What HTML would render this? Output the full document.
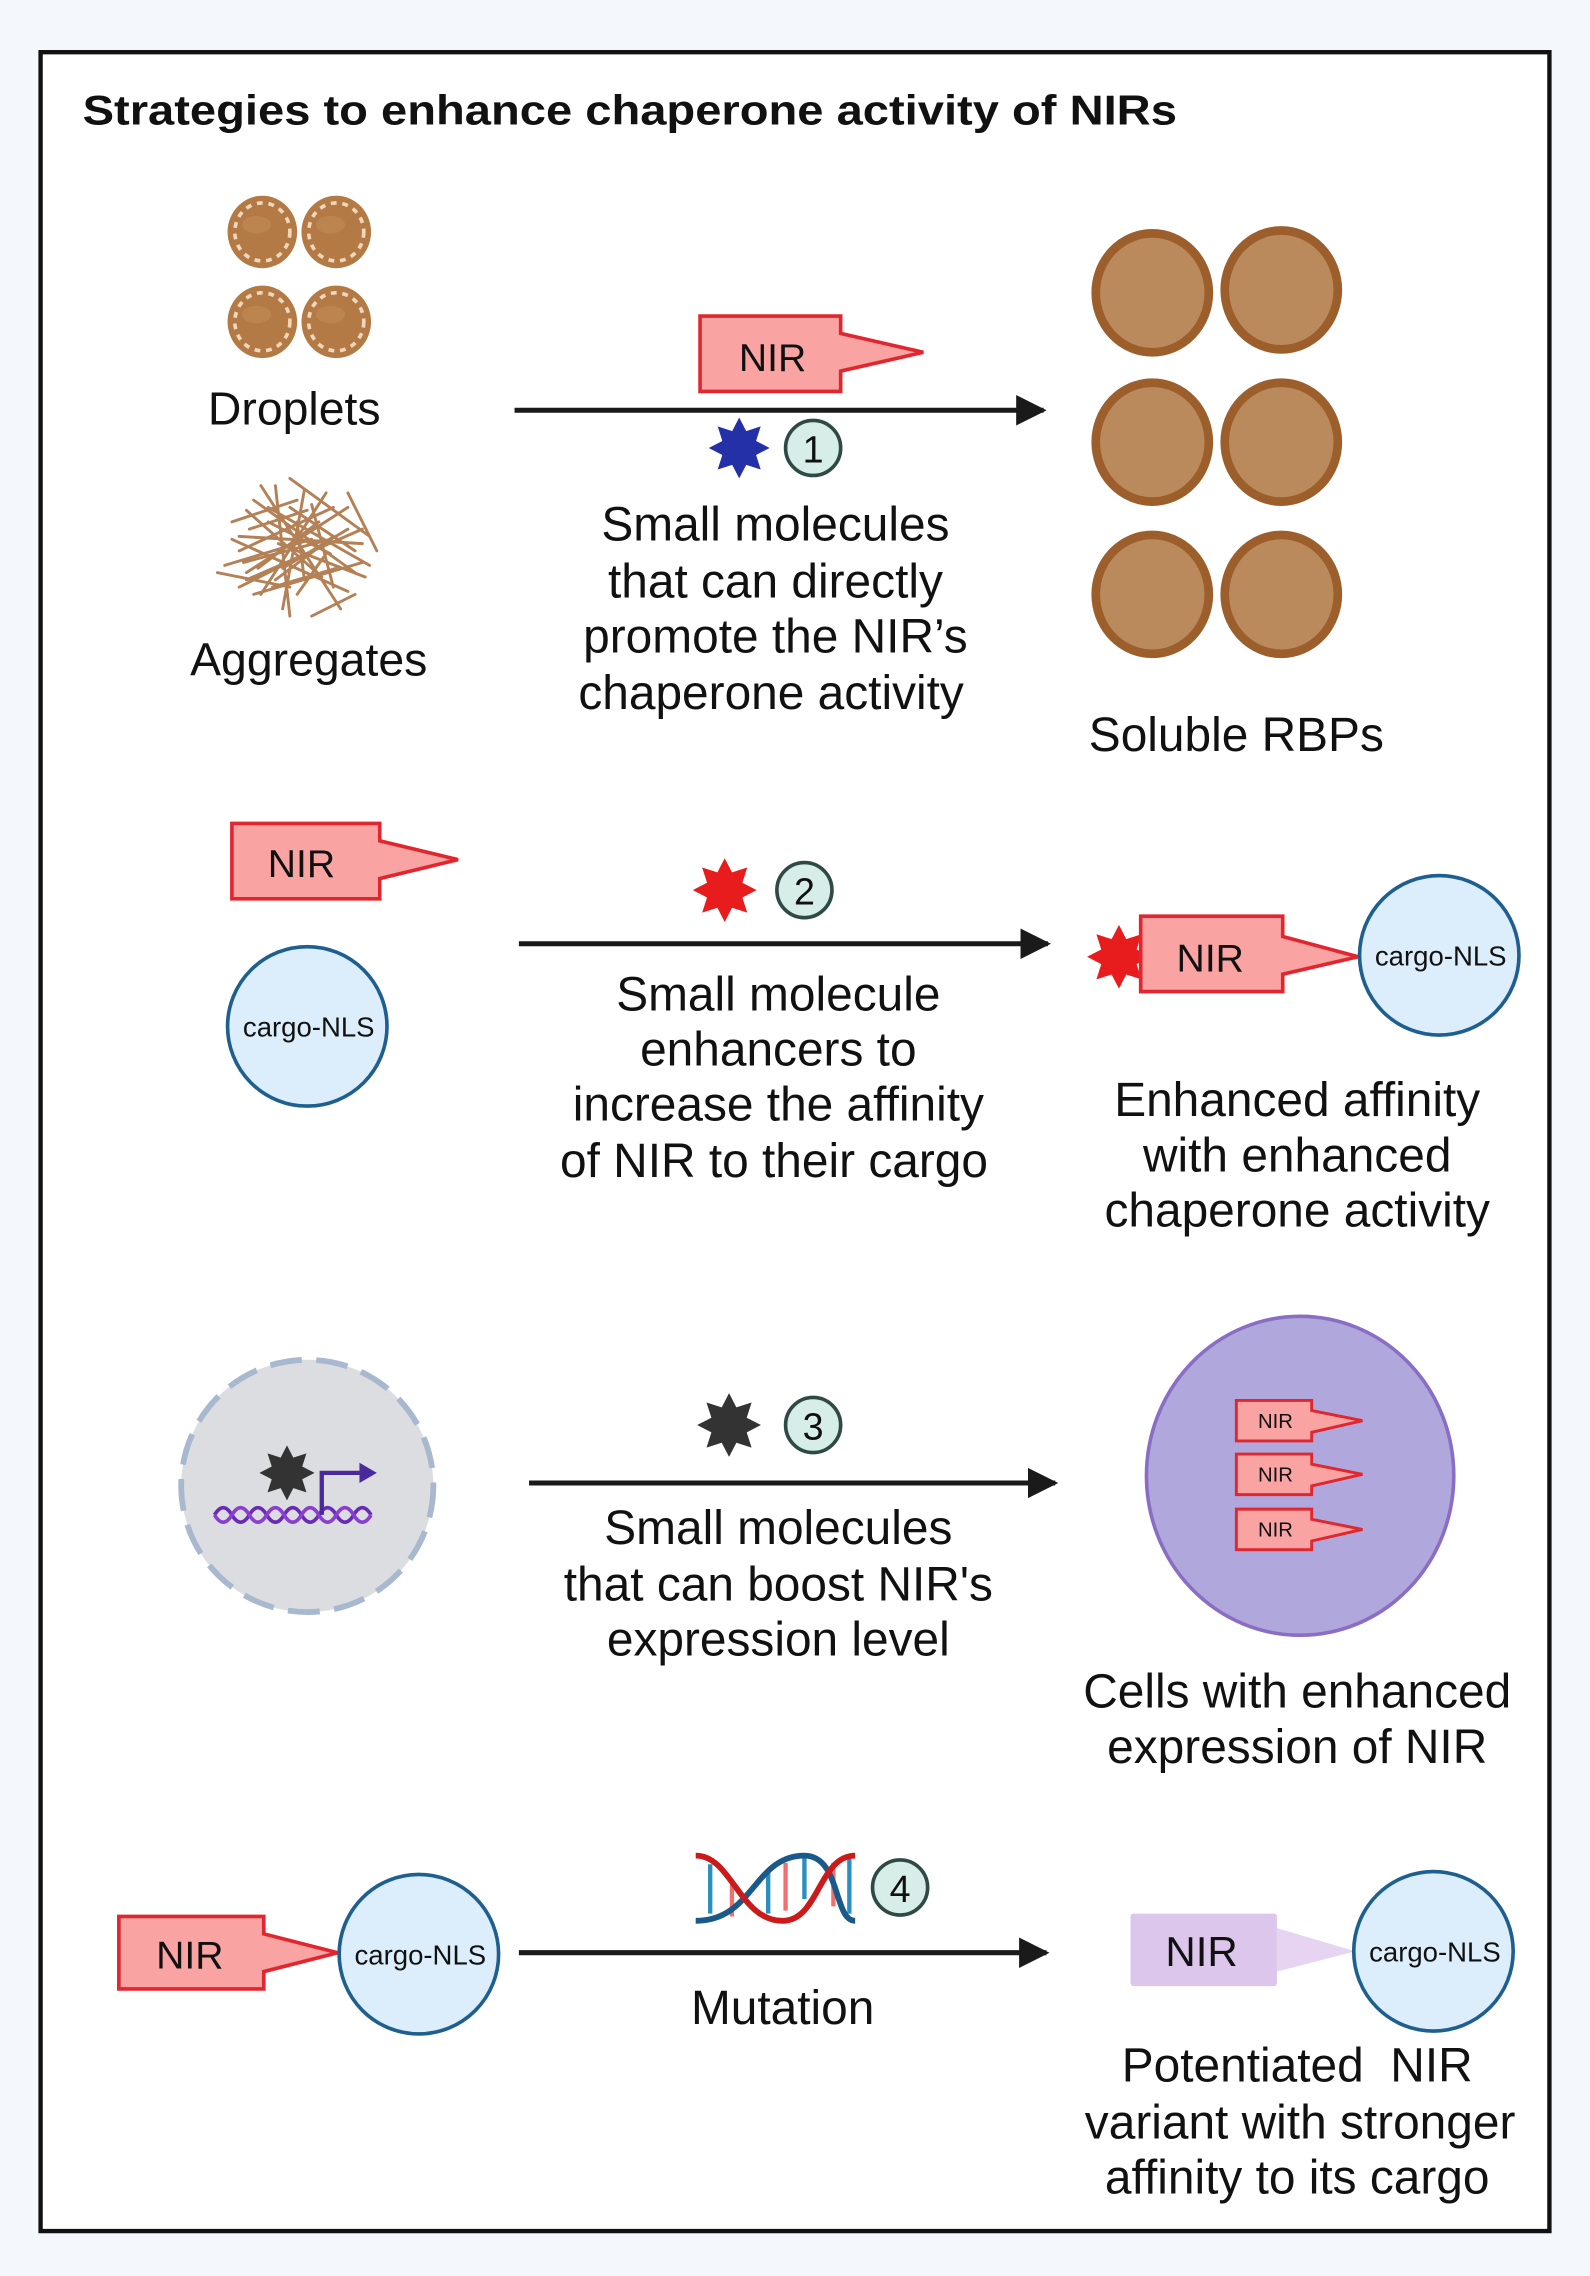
<!DOCTYPE html>
<html><head><meta charset="utf-8"><style>
html,body{margin:0;padding:0;background:#f4f7fb;}
svg{display:block}
text{font-family:"Liberation Sans",sans-serif;fill:#111;}
</style></head><body>
<svg width="1590" height="2276" viewBox="0 0 1097 1570" preserveAspectRatio="none" xmlns="http://www.w3.org/2000/svg">
<defs>
<polygon id="star" points="1,0 .554,.23 .707,.707 .23,.554 0,1 -.23,.554 -.707,.707 -.554,.23 -1,0 -.554,-.23 -.707,-.707 -.23,-.554 0,-1 .23,-.554 .707,-.707 .554,-.23"/>
<g id="drop"><ellipse rx="24" ry="25" fill="#b37a45"/><ellipse rx="19" ry="20" fill="none" stroke="#f1d6b8" stroke-width="2.5" stroke-dasharray="4 4"/><ellipse cx="-4" cy="-5" rx="10" ry="6" fill="#c08a56" opacity=".7"/></g>
<g id="rbp"><ellipse rx="39" ry="41" fill="#bb8a5c" stroke="#9c5f2b" stroke-width="6"/></g>
<marker id="ah" viewBox="0 0 10 10" refX="9" refY="5" markerWidth="6" markerHeight="6" orient="auto" markerUnits="strokeWidth"><path d="M0,0L10,5L0,10z" fill="#1a1a1a"/></marker>
</defs>
<rect x="0" y="0" width="1097" height="1570" fill="#f4f7fb"/>
<rect x="28" y="36" width="1041" height="1503" fill="#fff" stroke="#111" stroke-width="3"/>
<text x="57" y="86" font-size="29" font-weight="bold" textLength="755" lengthAdjust="spacingAndGlyphs">Strategies to enhance chaperone activity of NIRs</text>

<!-- Row 1 -->
<use href="#drop" x="181" y="160"/><use href="#drop" x="232" y="160"/>
<use href="#drop" x="181" y="222"/><use href="#drop" x="232" y="222"/>
<text x="203" y="293" font-size="32" text-anchor="middle">Droplets</text>
<g stroke="#a86a38" stroke-width="2" stroke-linecap="round" opacity=".85">
<path d="M160,360 L205,345 M165,380 L230,350 M170,400 L250,365 M155,390 L215,372 M175,345 L245,395 M180,335 L235,420 M190,335 L200,425 M210,338 L195,420 M225,340 L180,410 M240,350 L170,395 M250,375 L165,370 M255,390 L185,350 M160,372 L240,408 M175,410 L250,388 M200,330 L255,370 M150,395 L200,405 M215,425 L245,410 M185,360 L228,382 M195,392 L240,365 M170,352 L222,398 M205,360 L210,400 M230,370 L190,400 M165,405 L205,385 M240,340 L260,380 M172,365 L212,352 M188,405 L232,392 M200,350 L245,380 M178,392 L220,360 M215,348 L230,405 M192,375 L252,398 M168,388 L228,372 M205,410 L225,382"/>
</g>
<text x="213" y="466" font-size="32" text-anchor="middle">Aggregates</text>

<line x1="355" y1="283" x2="720" y2="283" stroke="#1a1a1a" stroke-width="3.5" marker-end="url(#ah)"/>
<polygon points="483,218 580,218 580,230 637,243 580,256 580,270 483,270" fill="#f9a3a3" stroke="#e0262e" stroke-width="2.5"/>
<text x="533" y="256" font-size="27" text-anchor="middle">NIR</text>
<use href="#star" transform="translate(510,309) scale(21)" fill="#2330a8"/>
<circle cx="561" cy="309" r="19" fill="#d7ede7" stroke="#2f4a45" stroke-width="2.5"/>
<text x="561" y="319" font-size="26" text-anchor="middle">1</text>
<g font-size="33" text-anchor="middle">
<text x="535" y="373">Small molecules</text>
<text x="535" y="412">that can directly</text>
<text x="535" y="450">promote the NIR’s</text>
<text x="532" y="489">chaperone activity</text>
</g>
<use href="#rbp" x="795" y="202"/><use href="#rbp" x="884" y="200"/>
<use href="#rbp" x="795" y="305"/><use href="#rbp" x="884" y="305"/>
<use href="#rbp" x="795" y="410"/><use href="#rbp" x="884" y="410"/>
<text x="853" y="518" font-size="33" text-anchor="middle">Soluble RBPs</text>

<!-- Row 2 -->
<polygon points="160,568 262,568 262,580 316,593 262,606 262,620 160,620" fill="#f9a3a3" stroke="#e0262e" stroke-width="2.5"/>
<text x="208" y="605" font-size="27" text-anchor="middle">NIR</text>
<circle cx="212" cy="708" r="55" fill="#dceefb" stroke="#1f5f8f" stroke-width="2.5"/>
<text x="213" y="715" font-size="19" text-anchor="middle">cargo-NLS</text>
<use href="#star" transform="translate(500,614) scale(22)" fill="#e81c1c"/>
<circle cx="555" cy="614" r="19" fill="#d7ede7" stroke="#2f4a45" stroke-width="2.5"/>
<text x="555" y="624" font-size="26" text-anchor="middle">2</text>
<line x1="358" y1="651" x2="723" y2="651" stroke="#1a1a1a" stroke-width="3.5" marker-end="url(#ah)"/>
<g font-size="33" text-anchor="middle">
<text x="537" y="697">Small molecule</text>
<text x="537" y="735">enhancers to</text>
<text x="537" y="773">increase the affinity</text>
<text x="534" y="812">of NIR to their cargo</text>
</g>
<use href="#star" transform="translate(772,660) scale(22)" fill="#e81c1c"/>
<polygon points="787,632 885,632 885,646 937,660 885,672 885,684 787,684" fill="#f9a3a3" stroke="#e0262e" stroke-width="2.5"/>
<text x="835" y="670" font-size="27" text-anchor="middle">NIR</text>
<circle cx="993" cy="659" r="55" fill="#dceefb" stroke="#1f5f8f" stroke-width="2.5"/>
<text x="994" y="666" font-size="19" text-anchor="middle">cargo-NLS</text>
<g font-size="33" text-anchor="middle">
<text x="895" y="770">Enhanced affinity</text>
<text x="895" y="808">with enhanced</text>
<text x="895" y="846">chaperone activity</text>
</g>

<!-- Row 3 -->
<circle cx="212" cy="1025" r="87" fill="#dcdde0" stroke="#a8b8cf" stroke-width="4" stroke-dasharray="22 10"/>
<use href="#star" transform="translate(198,1016) scale(19)" fill="#333"/>
<path d="M148,1045 q6,-10 12,0 q6,10 12,0 q6,-10 12,0 q6,10 12,0 q6,-10 12,0 q6,10 12,0 q6,-10 12,0 q6,10 12,0 q6,-10 12,0" fill="none" stroke="#6a2ab8" stroke-width="2.5"/>
<path d="M148,1045 q6,10 12,0 q6,-10 12,0 q6,10 12,0 q6,-10 12,0 q6,10 12,0 q6,-10 12,0 q6,10 12,0 q6,-10 12,0 q6,10 12,0" fill="none" stroke="#8b3fd0" stroke-width="2.5"/>
<path d="M222,1045 V1016 H250" fill="none" stroke="#4a2a9a" stroke-width="3"/>
<polygon points="248,1009 260,1016 248,1023" fill="#4a2a9a"/>
<use href="#star" transform="translate(503,983) scale(22)" fill="#333"/>
<circle cx="561" cy="983" r="19" fill="#d7ede7" stroke="#2f4a45" stroke-width="2.5"/>
<text x="561" y="993" font-size="26" text-anchor="middle">3</text>
<line x1="365" y1="1023" x2="728" y2="1023" stroke="#1a1a1a" stroke-width="3.5" marker-end="url(#ah)"/>
<g font-size="33" text-anchor="middle">
<text x="537" y="1065">Small molecules</text>
<text x="537" y="1104">that can boost NIR's</text>
<text x="537" y="1142">expression level</text>
</g>
<ellipse cx="897" cy="1018" rx="106" ry="110" fill="#b0a8dc" stroke="#8a6ec4" stroke-width="2.5"/>
<g stroke="#e0262e" stroke-width="2" fill="#f9a3a3">
<polygon points="853,966 905,966 905,973 940,980 905,988 905,994 853,994"/>
<polygon points="853,1003 905,1003 905,1010 940,1017 905,1025 905,1031 853,1031"/>
<polygon points="853,1041 905,1041 905,1048 940,1055 905,1063 905,1069 853,1069"/>
</g>
<g font-size="14" text-anchor="middle"><text x="880" y="985">NIR</text><text x="880" y="1022">NIR</text><text x="880" y="1060">NIR</text></g>
<g font-size="33" text-anchor="middle">
<text x="895" y="1178">Cells with enhanced</text>
<text x="895" y="1216">expression of NIR</text>
</g>

<!-- Row 4 -->
<polygon points="82,1322 182,1322 182,1334 233,1347 182,1360 182,1372 82,1372" fill="#f9a3a3" stroke="#e0262e" stroke-width="2.5"/>
<text x="131" y="1358" font-size="27" text-anchor="middle">NIR</text>
<circle cx="289" cy="1348" r="55" fill="#dceefb" stroke="#1f5f8f" stroke-width="2.5"/>
<text x="290" y="1355" font-size="19" text-anchor="middle">cargo-NLS</text>
<g stroke-width="3">
<line x1="490" y1="1286" x2="490" y2="1320" stroke="#2a8fbf"/><line x1="505" y1="1300" x2="505" y2="1322" stroke="#f07070"/>
<line x1="530" y1="1292" x2="530" y2="1320" stroke="#2a8fbf"/><line x1="542" y1="1285" x2="542" y2="1318" stroke="#f07070"/>
<line x1="555" y1="1282" x2="555" y2="1310" stroke="#2a8fbf"/><line x1="575" y1="1285" x2="575" y2="1315" stroke="#f07070"/>
<line x1="586" y1="1282" x2="586" y2="1320" stroke="#2a8fbf"/>
</g>
<path d="M480,1325 C520,1325 520,1280 555,1280 C580,1280 575,1325 590,1325" fill="none" stroke="#1a5a8a" stroke-width="4"/>
<path d="M480,1280 C505,1280 510,1325 540,1325 C565,1325 565,1280 590,1280" fill="none" stroke="#cc1a1a" stroke-width="4"/>
<circle cx="621" cy="1302" r="19" fill="#d7ede7" stroke="#2f4a45" stroke-width="2.5"/>
<text x="621" y="1312" font-size="26" text-anchor="middle">4</text>
<line x1="358" y1="1347" x2="722" y2="1347" stroke="#1a1a1a" stroke-width="3.5" marker-end="url(#ah)"/>
<text x="540" y="1396" font-size="33" text-anchor="middle">Mutation</text>
<polygon points="881,1330 935,1346 881,1360" fill="#e6d4f2"/>
<rect x="780" y="1320" width="101" height="50" rx="2" fill="#dcc6ec"/>
<text x="829" y="1356" font-size="29" text-anchor="middle">NIR</text>
<circle cx="989" cy="1346" r="55" fill="#dceefb" stroke="#1f5f8f" stroke-width="2.5"/>
<text x="990" y="1353" font-size="19" text-anchor="middle">cargo-NLS</text>
<g font-size="33" text-anchor="middle">
<text x="895" y="1436" xml:space="preserve">Potentiated  NIR</text>
<text x="897" y="1475">variant with stronger</text>
<text x="895" y="1513">affinity to its cargo</text>
</g>
</svg>
</body></html>
